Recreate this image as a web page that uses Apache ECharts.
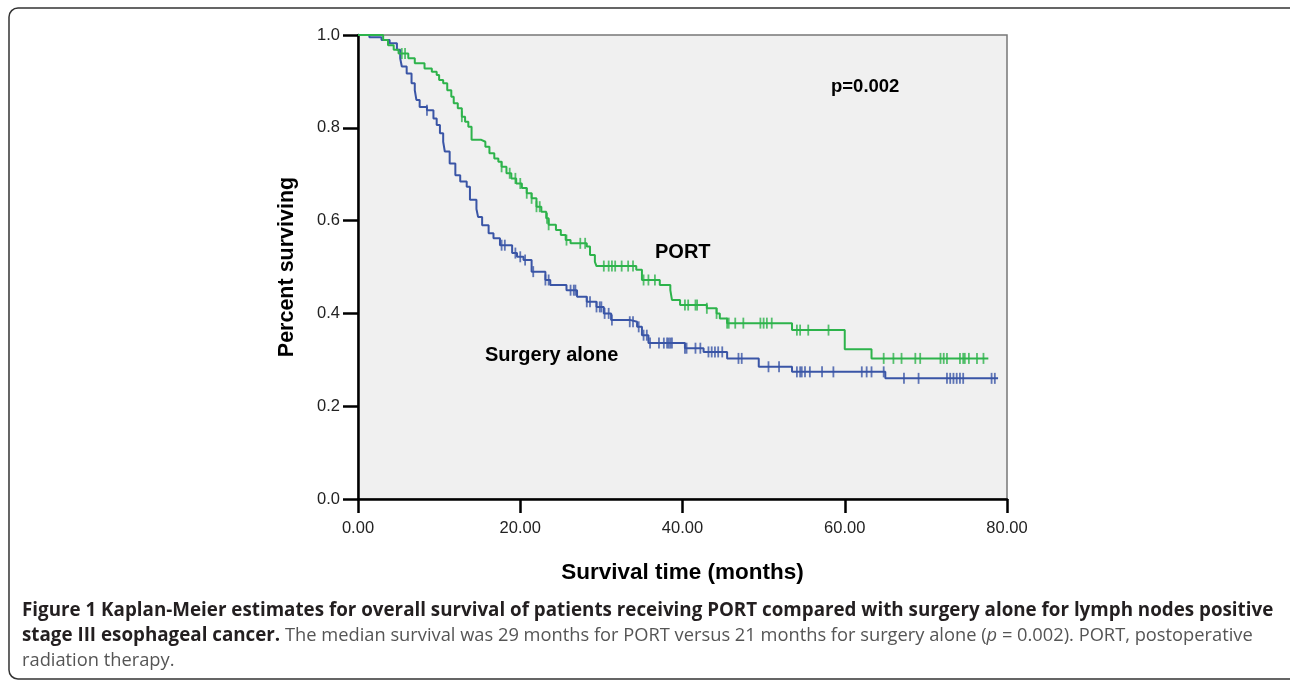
<!DOCTYPE html>
<html>
<head>
    <meta charset="utf-8">
    <title>Kaplan-Meier PORT vs surgery alone</title>
    <script src="https://cdn.jsdelivr.net/npm/echarts@6/dist/echarts.min.js"></script>
    <style>
        html, body { margin: 0; padding: 0; background: #fff; }
        #chart { width: 1290px; height: 681px; }
    </style>
</head>
<body>
    <div id="chart"></div>

    <script>
        // KM steps: [time (months), survival after the drop]
        let portSteps = [
            [0, 1.0], [3.1, 0.989], [3.7, 0.978], [4.4, 0.968], [5.0, 0.96], [6.2, 0.95],
            [7.0, 0.939], [8.2, 0.928], [9.1, 0.921], [9.7, 0.914], [10.0, 0.903], [10.5, 0.896],
            [11.0, 0.881], [11.5, 0.867], [11.8, 0.853], [12.3, 0.842], [12.8, 0.824], [13.2, 0.813],
            [13.6, 0.802], [14.0, 0.774], [15.2, 0.77], [15.7, 0.759], [16.2, 0.745], [16.8, 0.734],
            [17.3, 0.727], [17.7, 0.716], [18.3, 0.702], [18.9, 0.691], [19.5, 0.68], [20.2, 0.67],
            [20.8, 0.659], [21.4, 0.648], [22.0, 0.63], [22.6, 0.619], [23.2, 0.605], [23.5, 0.591],
            [24.4, 0.58], [25.0, 0.569], [25.6, 0.558], [26.2, 0.551], [28.2, 0.544], [28.6, 0.526],
            [29.2, 0.511], [29.4, 0.502], [34.3, 0.494], [35.0, 0.472], [37.2, 0.461], [38.5, 0.45],
            [38.7, 0.429], [39.7, 0.418], [43.0, 0.411], [44.2, 0.40], [44.6, 0.389], [45.5, 0.379],
            [53.5, 0.364], [60.0, 0.323], [63.3, 0.303], [77.7, 0.303]
        ];
        let surgerySteps = [
            [0, 1.0], [1.4, 0.995], [2.9, 0.989], [3.9, 0.982], [4.8, 0.968], [5.2, 0.95],
            [5.4, 0.932], [6.0, 0.917], [6.6, 0.896], [7.0, 0.881], [7.2, 0.86], [7.6, 0.845],
            [8.5, 0.838], [9.3, 0.82], [9.7, 0.806], [10.1, 0.788], [10.5, 0.77], [10.7, 0.749],
            [11.3, 0.723], [12.0, 0.698], [12.6, 0.684], [13.4, 0.673], [13.8, 0.645], [14.6, 0.625],
            [14.8, 0.608], [15.3, 0.59], [16.1, 0.573], [16.7, 0.562], [17.5, 0.547], [19.0, 0.53],
            [19.6, 0.522], [20.4, 0.515], [21.4, 0.49], [23.1, 0.472], [23.7, 0.461], [25.7, 0.45],
            [27.0, 0.436], [28.2, 0.425], [29.4, 0.414], [30.3, 0.40], [31.2, 0.386], [33.5, 0.382],
            [34.4, 0.371], [35.0, 0.353], [35.8, 0.336], [40.3, 0.325], [42.6, 0.317], [45.5, 0.303],
            [49.4, 0.285], [53.5, 0.274], [65.0, 0.26], [78.9, 0.26]
        ];

        // censored times (tick marks)
        let portCensored = [
            5.4, 5.8, 12.8, 17.7, 18.7, 19.4, 20.0, 20.8, 21.4, 22.0, 22.4, 23.3, 23.5, 25.7,
            27.4, 28.0, 30.3, 30.9, 31.3, 31.7, 32.5, 33.3, 33.9, 35.2, 35.8, 36.6, 40.3, 40.7,
            41.6, 41.8, 43.0, 44.2, 45.5, 45.7, 46.5, 47.5, 49.6, 50.0, 50.4, 51.0, 54.1, 54.5,
            55.5, 58.0, 64.8, 66.0, 67.0, 68.7, 69.3, 71.8, 72.2, 72.6, 74.2, 74.6, 74.8, 75.3,
            76.3, 77.1
        ];
        let surgeryCensored = [
            8.5, 17.7, 18.1, 19.4, 20.0, 20.6, 21.6, 23.1, 23.5, 26.2, 26.6, 26.8, 28.2, 28.6,
            29.4, 29.8, 30.0, 30.4, 30.9, 31.3, 33.5, 33.9, 34.6, 35.2, 35.6, 36.0, 37.1, 37.7,
            38.1, 38.3, 38.5, 38.7, 40.3, 40.5, 41.6, 42.2, 43.2, 43.6, 44.0, 44.4, 44.9, 46.9,
            47.3, 50.6, 51.9, 54.1, 54.5, 54.7, 55.1, 55.7, 57.2, 58.6, 62.1, 62.7, 63.3, 64.8,
            67.3, 69.1, 72.6, 73.0, 73.4, 73.8, 74.2, 74.6, 78.1, 78.5
        ];

        let xTicks = [0, 20, 40, 60, 80];
        let yTicks = [0, 0.2, 0.4, 0.6, 0.8, 1.0];

        let portColor = '#2db34b';
        let surgeryColor = '#3a55a6';

        // value of the step curve at time t
        function stepValue(steps, t) {
            let v = steps[0][1];
            for (let i = 0; i < steps.length; i++) {
                if (steps[i][0] <= t) v = steps[i][1];
            }
            return v;
        }

        function censorPoints(steps, times) {
            return times.map(t => [t, stepValue(steps, t)]);
        }

        let chart = echarts.init(document.getElementById('chart'));

        let axisFont = 'Liberation Sans, Arial, sans-serif';
        let capFont = 'Open Sans, sans-serif';

        let option = {
            animation: false,
            grid: {
                left: 358, top: 35, right: 283, bottom: 182,
                show: true,
                backgroundColor: '#f0f0f0',
                borderColor: '#777',
                borderWidth: 1.5
            },
            xAxis: {
                type: 'value',
                min: 0, max: 80, interval: 20,
                name: 'Survival time (months)',
                nameLocation: 'middle',
                nameGap: 62,
                nameTextStyle: { fontFamily: axisFont, fontSize: 22.5, fontWeight: 'bold', color: '#000' },
                axisLine: { lineStyle: { color: '#000', width: 2.5 } },
                axisTick: { show: true, length: 14, lineStyle: { color: '#000', width: 2.5 } },
                axisLabel: {
                    margin: 21, fontFamily: axisFont, fontSize: 16.5, color: '#222',
                    formatter: v => xTicks.indexOf(v) >= 0 ? v.toFixed(2) : ''
                },
                splitLine: { show: false }
            },
            yAxis: {
                type: 'value',
                min: 0, max: 1, interval: 0.2,
                name: 'Percent surviving',
                nameLocation: 'middle',
                nameGap: 60,
                nameTextStyle: { fontFamily: axisFont, fontSize: 21.5, fontWeight: 'bold', color: '#000' },
                axisLine: { show: true, lineStyle: { color: '#000', width: 2.5 } },
                axisTick: { show: true, length: 15, lineStyle: { color: '#000', width: 2.5 } },
                axisLabel: {
                    margin: 18, fontFamily: axisFont, fontSize: 16.5, color: '#222',
                    formatter: v => yTicks.some(t => Math.abs(t - v) < 1e-9) ? v.toFixed(1) : ''
                },
                splitLine: { show: false }
            },
            series: [
                {
                    name: 'Surgery alone',
                    type: 'line',
                    step: 'end',
                    data: surgerySteps,
                    showSymbol: false,
                    lineStyle: { color: surgeryColor, width: 2 },
                    z: 3
                },
                {
                    name: 'PORT',
                    type: 'line',
                    step: 'end',
                    data: portSteps,
                    showSymbol: false,
                    lineStyle: { color: portColor, width: 2 },
                    z: 4
                },
                {
                    name: 'Surgery alone censored',
                    type: 'scatter',
                    data: censorPoints(surgerySteps, surgeryCensored),
                    symbol: 'rect',
                    symbolSize: [1.8, 11],
                    itemStyle: { color: surgeryColor },
                    z: 3
                },
                {
                    name: 'PORT censored',
                    type: 'scatter',
                    data: censorPoints(portSteps, portCensored),
                    symbol: 'rect',
                    symbolSize: [1.8, 11],
                    itemStyle: { color: portColor },
                    z: 4
                }
            ],
            graphic: [
                {
                    type: 'rect',
                    shape: { x: 9, y: 8, width: 1300, height: 671, r: [9, 0, 0, 9] },
                    style: { fill: 'none', stroke: '#333', lineWidth: 1.5 },
                    silent: true
                },
                {
                    type: 'text', left: 831, top: 77,
                    style: { text: 'p=0.002', font: 'bold 18.5px ' + axisFont, fill: '#000' }
                },
                {
                    type: 'text', left: 655, top: 242,
                    style: { text: 'PORT', font: 'bold 20px ' + axisFont, fill: '#000' }
                },
                {
                    type: 'text', left: 485, top: 345,
                    style: { text: 'Surgery alone', font: 'bold 20px ' + axisFont, fill: '#000' }
                },
                {
                    type: 'text', left: 22, top: 601,
                    style: {
                        text: '{b|Figure 1 Kaplan-Meier estimates for overall survival of patients receiving PORT compared with surgery alone for lymph nodes positive}\n' +
                              '{b|stage III esophageal cancer.}{r| The median survival was 29 months for PORT versus 21 months for surgery alone (}{i|p}{r| = 0.002). PORT, postoperative}\n' +
                              '{r|radiation therapy.}',
                        rich: {
                            b: { fontFamily: capFont, fontSize: 18.8, fontWeight: 'bold', fill: '#231f20', lineHeight: 25 },
                            r: { fontFamily: capFont, fontSize: 18.3, fill: '#555', lineHeight: 25 },
                            i: { fontFamily: capFont, fontSize: 18.3, fontStyle: 'italic', fill: '#555', lineHeight: 25 }
                        }
                    }
                }
            ]
        };

        chart.setOption(option);
    </script>
</body>
</html>
